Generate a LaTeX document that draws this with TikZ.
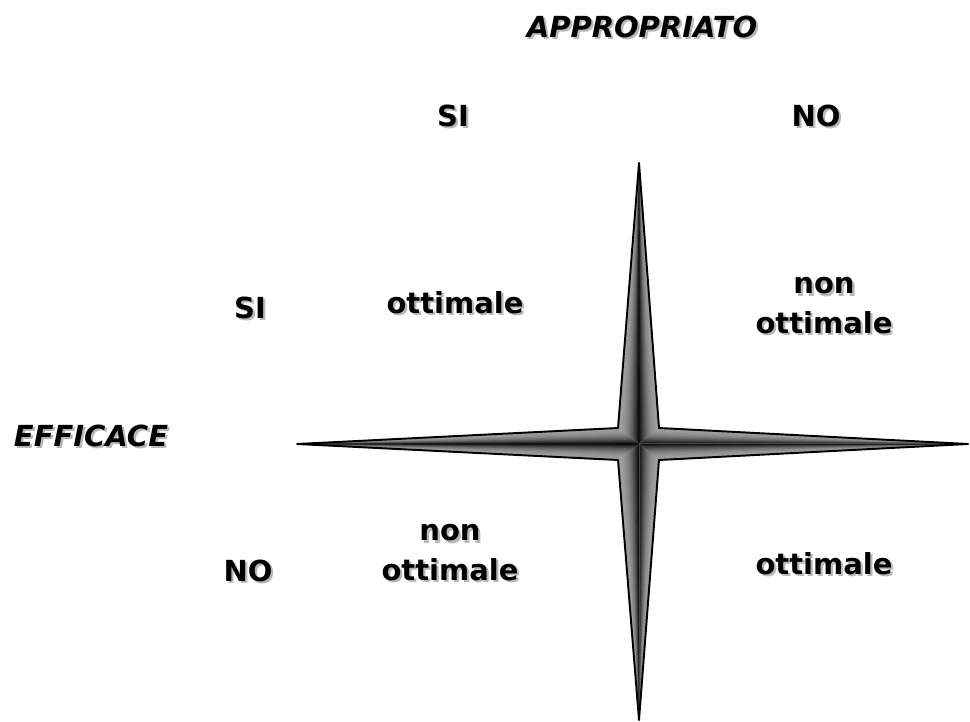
\documentclass[tikz,border=0pt]{standalone}
\usepackage{fontspec}
\setmainfont{DejaVu Sans}
\usetikzlibrary{calc}

\newcommand{\shd}[1]{\makebox[0pt][l]{\hspace{1.3pt}\raisebox{-1.3pt}{\color{black!28}#1}}#1}

\tikzset{
	lbl/.style = {font = \bfseries\fontsize{16.5}{22.7}\selectfont, align = center, inner sep = 0pt},
	ital/.style = {lbl, font = \bfseries\itshape\fontsize{16.5}{22.7}\selectfont},
	rim/.style = {line width = 1.1pt, line join = round}
}

\begin{document}
\begin{tikzpicture}[x = 0.02cm, y = -0.02cm]

	\useasboundingbox (0, 0) rectangle (970, 722);

	% Star points
	
	\coordinate (c) at (639, 444);
	\coordinate (tN) at (639, 163);
	\coordinate (tS) at (639, 720);
	\coordinate (tW) at (297, 444);
	\coordinate (tE) at (968, 444);
	\coordinate (kNW) at (618, 428);
	\coordinate (kNE) at (659, 428);
	\coordinate (kSW) at (618, 460);
	\coordinate (kSE) at (659, 460);
	
	% Star shading
	
	\foreach \t/\k in {tN/kNW, tN/kNE, tE/kNE, tE/kSE, tS/kSE, tS/kSW, tW/kSW, tW/kNW} {
		\foreach \s in {1.00, 0.95, ..., 0.04} {
			\pgfmathsetmacro\tone{38 + 62 * (1 - \s)^2}
			\fill [black!\tone] (c) -- ($(c)!\s!(\k)$) -- (\t) -- cycle;
		}
	}
	
	% Star outline
	
	\draw [rim] (tN) -- (kNE) -- (tE) -- (kSE) -- (tS) -- (kSW) -- (tW) -- (kNW) -- cycle;
	
	% Headings
	
	\node [ital] (appr) at (642, 28) {\shd{APPROPRIATO}};
	\node [lbl] (siT) at (453, 117) {\shd{SI}};
	\node [lbl] (noT) at (816, 117) {\shd{NO}};
	
	\node [ital] (effi) at (91, 437) {\shd{EFFICACE}};
	\node [lbl] (siL) at (250, 309) {\shd{SI}};
	\node [lbl] (noL) at (248, 572) {\shd{NO}};
	
	% Quadrants
	
	\node [lbl] (q1) at (455, 304) {\shd{ottimale}};
	\node [lbl] (q2) at (824, 307) {\shd{non}\\\shd{ottimale}};
	\node [lbl] (q3) at (450, 554) {\shd{non}\\\shd{ottimale}};
	\node [lbl] (q4) at (824, 565) {\shd{ottimale}};

\end{tikzpicture}
\end{document}
